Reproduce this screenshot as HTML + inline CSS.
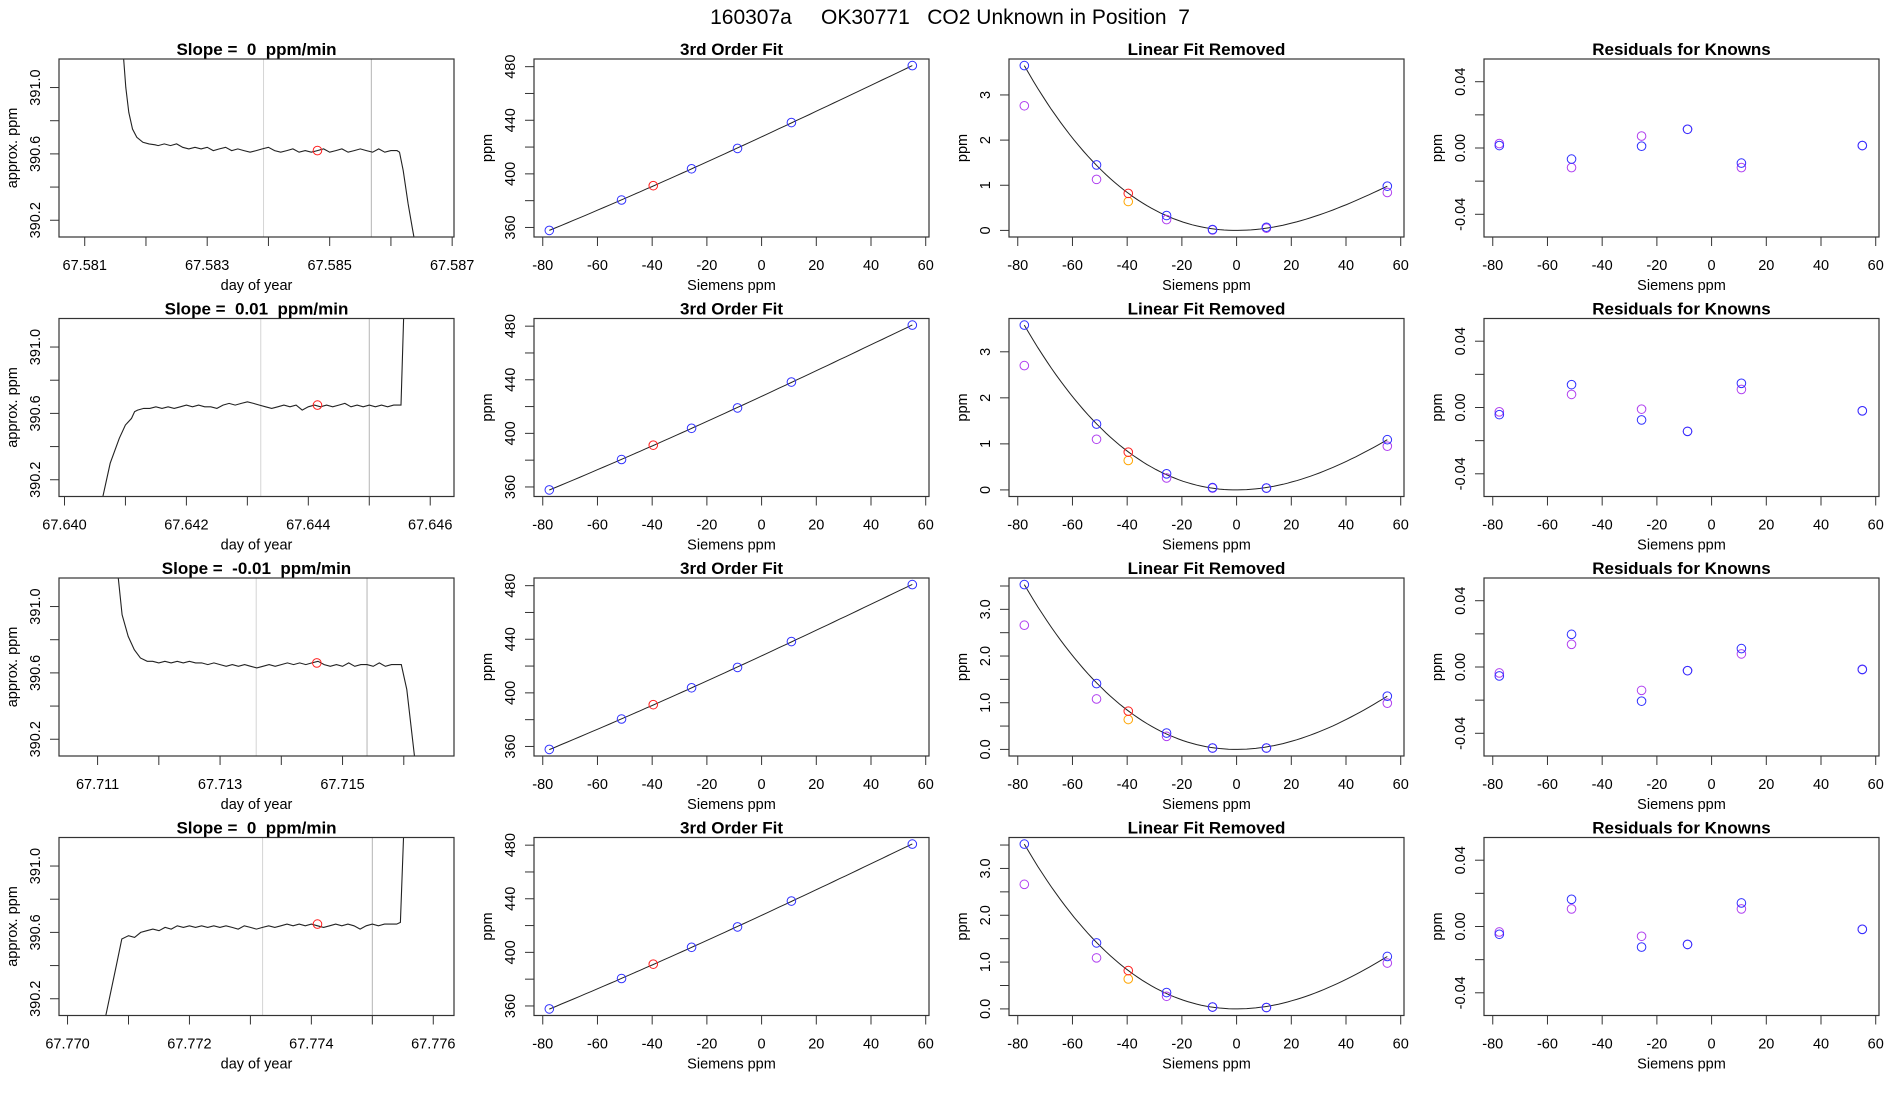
<!DOCTYPE html>
<html><head><meta charset="utf-8"><style>
html,body{margin:0;padding:0;background:#fff;}
svg{display:block;font-family:"Liberation Sans",Arial,sans-serif;}
</style></head><body>
<svg id="fig" width="1900" height="1100" viewBox="0 0 1900 1100">
<text x="950" y="24" text-anchor="middle" font-size="21" style="white-space:pre">160307a     OK30771   CO2 Unknown in Position  7</text>
</svg>
<script>
// ---------- data ----------
const slopeTitles = ["0", "0.01", "-0.01", "0"];
const xlim1 = [[67.58058, 67.58703], [67.63991, 67.64639], [67.71037, 67.71682], [67.76986, 67.77634]];
const xticks1 = [[67.581,67.582,67.583,67.584,67.585,67.586,67.587],[67.640,67.641,67.642,67.643,67.644,67.645,67.646],[67.711,67.712,67.713,67.714,67.715,67.716],[67.770,67.771,67.772,67.773,67.774,67.775,67.776]];
const xlabels1 = [[67.581,67.583,67.585,67.587],[67.640,67.642,67.644,67.646],[67.711,67.713,67.715],[67.770,67.772,67.774,67.776]];
const yticks1 = [390.2, 390.4, 390.6, 390.8, 391.0];
const ylabels1 = [390.2, 390.6, 391.0];
const ylim1 = [390.099, 391.172];
const grayLines = [[67.58392, 67.58568], [67.64322, 67.64500], [67.71359, 67.71540], [67.77320, 67.77500]];
const redT = [67.5848, 67.64415, 67.71458, 67.7741];
const redV = [390.62, 390.65, 390.66, 390.65];
// trace: leading transition, flat section (start, step, values), trailing transition
const headT = [[67.58163,67.58167,67.58172,67.58178,67.58185,67.58195,67.58205,67.58215],[67.6406,67.64075,67.6409,67.6410,67.6411,67.64115],[67.71133,67.7114,67.7115,67.7116,67.7117,67.71181],[67.7706,67.7708,67.77089,67.7710]];
const headV = [[391.2,391.0,390.85,390.75,390.70,390.67,390.66,390.655],[390.05,390.3,390.45,390.53,390.57,390.61],[391.2,390.95,390.82,390.74,390.69,390.67],[390.05,390.4,390.56,390.58]];
const flatStart = [67.5822, 67.6412, 67.7119, 67.7711];
const flatStep = 0.0001;
const flatV = [
[390.65,390.66,390.65,390.66,390.64,390.63,390.64,390.63,390.64,390.62,390.63,390.64,390.62,390.63,390.62,390.61,390.62,390.63,390.64,390.62,390.61,390.62,390.63,390.61,390.62,390.61,390.62,390.63,390.61,390.62,390.63,390.61,390.62,390.63,390.62,390.61,390.63,390.61,390.62,390.62],
[390.62,390.63,390.63,390.64,390.63,390.64,390.63,390.64,390.65,390.64,390.65,390.64,390.64,390.63,390.65,390.66,390.65,390.66,390.67,390.66,390.65,390.64,390.63,390.64,390.65,390.64,390.65,390.62,390.64,390.65,390.64,390.65,390.64,390.65,390.66,390.64,390.65,390.64,390.65,390.64,390.65,390.64,390.65,390.65],
[390.67,390.66,390.67,390.66,390.67,390.66,390.67,390.66,390.66,390.65,390.66,390.65,390.64,390.65,390.64,390.65,390.64,390.63,390.64,390.65,390.64,390.65,390.66,390.65,390.66,390.65,390.66,390.67,390.65,390.64,390.65,390.64,390.66,390.64,390.65,390.65,390.64,390.66,390.64,390.65,390.65],
[390.57,390.60,390.61,390.62,390.61,390.63,390.62,390.64,390.63,390.64,390.63,390.64,390.63,390.64,390.63,390.64,390.63,390.62,390.64,390.63,390.62,390.63,390.64,390.63,390.64,390.65,390.64,390.65,390.64,390.65,390.64,390.63,390.64,390.65,390.64,390.65,390.64,390.62,390.64,390.65,390.64,390.65,390.65,390.65]];
const tailT = [[67.58614,67.5862,67.58628,67.58635,67.5864],[67.64552,67.64557],[67.71596,67.71605,67.71619],[67.77546,67.77552]];
const tailV = [[390.61,390.5,390.3,390.15,390.05],[390.65,391.25],[390.65,390.5,390.05],[390.66,391.25]];

const siemens = [-77.6, -51.2, -25.6, -8.8, 10.9, 55.1];
const unknownX = -39.6;
const ppmKnown = [357.8, 380.5, 403.8, 419.0, 438.3, 480.8];
const ppmUnknown = 391.2;
const linCoef = [427.64, 0.947];
const fitCoef = [[4.404e-4, -2.135e-6],[4.568e-4, -1.774e-6],[4.630e-4, -1.588e-6],[4.584e-4, -1.625e-6]];
const devBlue = [[3.65,1.45,0.33,0.02,0.07,0.98],[3.58,1.43,0.35,0.05,0.04,1.09],[3.53,1.41,0.35,0.03,0.03,1.14],[3.52,1.41,0.35,0.04,0.03,1.12]];
const devPurple = [[2.76,1.13,0.24,0.01,0.05,0.84],[2.70,1.10,0.26,0.04,0.04,0.95],[2.66,1.08,0.28,0.03,0.03,0.99],[2.66,1.09,0.27,0.04,0.03,0.98]];
const devRed = [0.82, 0.82, 0.82, 0.82];
const devOrange = [0.64, 0.64, 0.64, 0.64];
const devTickStep = [1, 1, 0.5, 0.5];
const resBlue = [[0.0015,-0.0067,0.0011,0.0113,-0.0091,0.0015],[-0.0043,0.0138,-0.0075,-0.0144,0.0146,-0.002],[-0.0054,0.0197,-0.0206,-0.0022,0.0111,-0.0014],[-0.0047,0.0164,-0.0124,-0.0108,0.0142,-0.0017]];
const resPurple = [[0.0027,-0.0118,0.0072,0.0113,-0.0118,0.0015],[-0.0026,0.0079,-0.001,-0.0144,0.0109,-0.002],[-0.0036,0.0137,-0.0141,-0.0022,0.0079,-0.0016],[-0.0033,0.0106,-0.0059,-0.0108,0.0106,-0.0017]];
const siemensTicks = [-80,-60,-40,-20,0,20,40,60];
const ppmTicks = [360,380,400,420,440,460,480];
const ppmLabels = [360,400,440,480];
const resTicks = [-0.04,-0.02,0,0.02,0.04];
const resLabels = [-0.04,0,0.04];

// ---------- layout ----------
const svg = document.getElementById('fig');
const NS = 'http://www.w3.org/2000/svg';
const rowTop = [59, 318.5, 578, 837.5];
const PH = 178;
const colX = [[59,454],[534,929],[1009,1404],[1484,1879]];
const sxLim = [-83.2, 61.2];
const resLim = [-0.0537, 0.0537];

function mk(tag, attrs, parent) {
  const e = document.createElementNS(NS, tag);
  for (const k in attrs) e.setAttribute(k, attrs[k]);
  (parent || svg).appendChild(e);
  return e;
}
function scale(d0, d1, r0, r1) { return v => r0 + (v - d0) / (d1 - d0) * (r1 - r0); }
function fmt(v, d) { return v.toFixed(d); }

function frame(g, x0, x1, y0, name, title) {
  const r = mk('rect', {x:x0, y:y0, width:x1-x0, height:PH, fill:'none', stroke:'#333', 'stroke-width':1.2}, g);
  
  
  const t = mk('text', {x:(x0+x1)/2, y:y0-4, 'text-anchor':'middle', 'font-size':17, 'font-weight':'bold', style:'white-space:pre'}, g);
  t.textContent = title;
  
  
}
function xAxis(g, sx, y0, ticks, labels, dec, title, name) {
  const yb = y0 + PH;
  const ax = mk('g', {}, g);
  
  
  ticks.forEach(v => {
    const l = mk('line', {x1:sx(v), x2:sx(v), y1:yb, y2:yb+9, stroke:'#333'}, ax);
    
    
  });
  labels.forEach(v => {
    const t = mk('text', {x:sx(v), y:yb+33, 'text-anchor':'middle', 'font-size':14.5}, ax);
    t.textContent = fmt(v, dec);
    
    
  });
  const t = mk('text', {x:(sx.r0), y:yb+53, 'text-anchor':'middle', 'font-size':14.5}, ax);
  t.textContent = title;
  
  
  return t;
}
function yAxis(g, sy, x0, ticks, labels, dec, title, name, y0) {
  const ax = mk('g', {}, g);
  
  
  ticks.forEach(v => {
    const l = mk('line', {x1:x0-9, x2:x0, y1:sy(v), y2:sy(v), stroke:'#333'}, ax);
    
    
  });
  labels.forEach(v => {
    const x = x0-19, y = sy(v);
    const t = mk('text', {x:x, y:y, 'text-anchor':'middle', 'font-size':14.5, transform:`rotate(-90 ${x} ${y})`}, ax);
    t.textContent = fmt(v, dec);
    
    
  });
  const x = x0-42, y = y0 + PH/2;
  const t = mk('text', {x:x, y:y, 'text-anchor':'middle', 'font-size':14.5, transform:`rotate(-90 ${x} ${y})`}, ax);
  t.textContent = title;
  
  
}
function circle(g, x, y, color, name) {
  const c = mk('circle', {cx:x, cy:y, r:4.3, fill:'none', stroke:color, 'stroke-width':1}, g);
  
  
}
function clip(id, x0, x1, y0) {
  const cp = mk('clipPath', {id:id});
  mk('rect', {x:x0, y:y0, width:x1-x0, height:PH}, cp);
}
function fitDev(r, x) { return fitCoef[r][0]*x*x + fitCoef[r][1]*x*x*x; }

for (let r = 0; r < 4; r++) {
  const y0 = rowTop[r];
  const row = mk('g', {});
  
  

  // ---- panel 1: time trace ----
  {
    const [x0, x1] = colX[0];
    const g = mk('g', {}, row);
    
    
    const sx = scale(xlim1[r][0], xlim1[r][1], x0, x1); sx.r0 = (x0+x1)/2;
    const sy = scale(ylim1[0], ylim1[1], y0+PH, y0);
    clip('c1_'+r, x0, x1, y0);
    grayLines[r].forEach((v, i) => {
      const l = mk('line', {x1:sx(v), x2:sx(v), y1:y0, y2:y0+PH, stroke:i===0?'#d4d4d4':'#b4b4b4', 'stroke-width':1}, g);
      
      
    });
    const pts = [];
    headT[r].forEach((t, i) => pts.push([t, headV[r][i]]));
    flatV[r].forEach((v, i) => pts.push([flatStart[r] + i*flatStep, v]));
    tailT[r].forEach((t, i) => pts.push([t, tailV[r][i]]));
    const p = mk('polyline', {points: pts.map(q => sx(q[0]).toFixed(1)+','+sy(q[1]).toFixed(1)).join(' '), fill:'none', stroke:'#222', 'stroke-width':1.1, 'clip-path':'url(#c1_'+r+')'}, g);
    
    
    circle(g, sx(redT[r]), sy(redV[r]), '#ff2020', 'mean-value-point');
    frame(g, x0, x1, y0, 'trace-panel', 'Slope =  ' + slopeTitles[r] + '  ppm/min');
    xAxis(g, sx, y0, xticks1[r], xlabels1[r], 3, 'day of year', 'trace');
    yAxis(g, sy, x0, yticks1, ylabels1, 1, 'approx. ppm', 'trace', y0);
  }
  // ---- panel 2: 3rd order fit ----
  {
    const [x0, x1] = colX[1];
    const g = mk('g', {}, row);
    
    
    const sx = scale(sxLim[0], sxLim[1], x0, x1); sx.r0 = (x0+x1)/2;
    const all = ppmKnown.concat([ppmUnknown]);
    const mn = Math.min(...all), mx = Math.max(...all), pad = (mx-mn)*0.04;
    const sy = scale(mn-pad, mx+pad, y0+PH, y0);
    const pts = [];
    const xa = siemens[0], xb = siemens[siemens.length-1];
    for (let i = 0; i <= 60; i++) {
      const x = xa + (xb-xa)*i/60;
      pts.push(sx(x).toFixed(1)+','+sy(linCoef[0]+linCoef[1]*x+fitDev(r,x)).toFixed(1));
    }
    const p = mk('polyline', {points:pts.join(' '), fill:'none', stroke:'#222', 'stroke-width':1}, g);
    
    
    siemens.forEach((x, i) => circle(g, sx(x), sy(ppmKnown[i]), '#3030ff', 'known-standard-point'));
    circle(g, sx(unknownX), sy(ppmUnknown), '#ff2020', 'unknown-sample-point');
    frame(g, x0, x1, y0, 'fit-panel', '3rd Order Fit');
    xAxis(g, sx, y0, siemensTicks, siemensTicks, 0, 'Siemens ppm', 'fit');
    yAxis(g, sy, x0, ppmTicks, ppmLabels, 0, 'ppm', 'fit', y0);
  }
  // ---- panel 3: linear fit removed ----
  {
    const [x0, x1] = colX[2];
    const g = mk('g', {}, row);
    
    
    const sx = scale(sxLim[0], sxLim[1], x0, x1); sx.r0 = (x0+x1)/2;
    const all = devBlue[r].concat(devPurple[r], [devRed[r], devOrange[r], 0]);
    const mn = Math.min(...all), mx = Math.max(...all), pad = (mx-mn)*0.04;
    const sy = scale(mn-pad, mx+pad, y0+PH, y0);
    const pts = [];
    const xa = siemens[0], xb = siemens[siemens.length-1];
    for (let i = 0; i <= 80; i++) {
      const x = xa + (xb-xa)*i/80;
      pts.push(sx(x).toFixed(1)+','+sy(fitDev(r,x)).toFixed(1));
    }
    const p = mk('polyline', {points:pts.join(' '), fill:'none', stroke:'#222', 'stroke-width':1}, g);
    
    
    siemens.forEach((x, i) => circle(g, sx(x), sy(devPurple[r][i]), '#b040f0', 'previous-known-point'));
    siemens.forEach((x, i) => circle(g, sx(x), sy(devBlue[r][i]), '#3030ff', 'known-standard-point'));
    circle(g, sx(unknownX), sy(devOrange[r]), '#ffa500', 'previous-unknown-point');
    circle(g, sx(unknownX), sy(devRed[r]), '#ff2020', 'unknown-sample-point');
    frame(g, x0, x1, y0, 'linear-removed-panel', 'Linear Fit Removed');
    xAxis(g, sx, y0, siemensTicks, siemensTicks, 0, 'Siemens ppm', 'linear-removed');
    const st = devTickStep[r], ticks = [], labels = [];
    for (let v = 0; v <= mx+pad+1e-9; v += st) { ticks.push(v); if (Math.abs(v-Math.round(v))<1e-9) labels.push(v); }
    yAxis(g, sy, x0, ticks, labels, st < 1 ? 1 : 0, 'ppm', 'linear-removed', y0);
  }
  // ---- panel 4: residuals ----
  {
    const [x0, x1] = colX[3];
    const g = mk('g', {}, row);
    
    
    const sx = scale(sxLim[0], sxLim[1], x0, x1); sx.r0 = (x0+x1)/2;
    const sy = scale(resLim[0], resLim[1], y0+PH, y0);
    siemens.forEach((x, i) => circle(g, sx(x), sy(resPurple[r][i]), '#b040f0', 'previous-residual-point'));
    siemens.forEach((x, i) => circle(g, sx(x), sy(resBlue[r][i]), '#3030ff', 'residual-point'));
    frame(g, x0, x1, y0, 'residuals-panel', 'Residuals for Knowns');
    xAxis(g, sx, y0, siemensTicks, siemensTicks, 0, 'Siemens ppm', 'residuals');
    yAxis(g, sy, x0, resTicks, resLabels, 2, 'ppm', 'residuals', y0);
  }
}
</script>
</body></html>
